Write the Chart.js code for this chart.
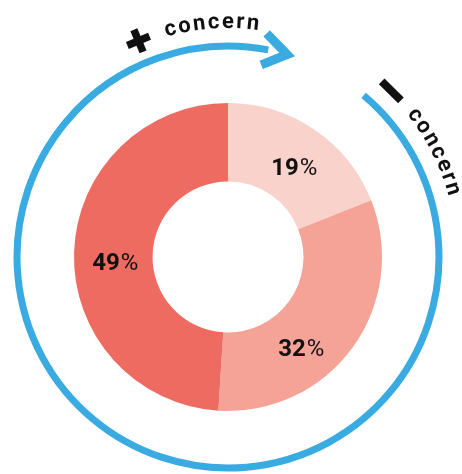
<!DOCTYPE html>
<html>
<head>
<meta charset="utf-8">
<script src="https://cdn.jsdelivr.net/npm/chart.js@4.4.1/dist/chart.umd.min.js"></script>
<style>
  html, body { margin: 0; padding: 0; background: #fff; }
  #wrap { width: 462px; height: 474px; position: relative; }
</style>
</head>
<body>
<div id="wrap"><canvas id="donut"></canvas></div>
<script>
// data
const categories = ['Less concern', 'Some concern', 'More concern'];
const shares = [19, 32, 49];
const shareLabels = ['19', '32', '49'];
const sliceColors = ['#F9D3CB', '#F4A396', '#EE6B62'];

const ringBlue = '#3AABE0';

// compass degrees (0 = top, clockwise) -> point
function polar(cx, cy, r, deg) {
  const a = (deg - 90) * Math.PI / 180;
  return [cx + r * Math.cos(a), cy + r * Math.sin(a)];
}
const rad = d => (d - 90) * Math.PI / 180;

function arcText(ctx, text, cx, cy, r, centerDeg, spacing) {
  const widths = [...text].map(ch => ctx.measureText(ch).width);
  const total = widths.reduce((s, w) => s + w, 0) + spacing * (widths.length - 1);
  let deg = centerDeg - (total / r) * 180 / Math.PI / 2;
  [...text].forEach((ch, i) => {
    const w = widths[i];
    const mid = deg + (w / 2 / r) * 180 / Math.PI;
    const [x, y] = polar(cx, cy, r, mid);
    ctx.save();
    ctx.translate(x, y);
    ctx.rotate(mid * Math.PI / 180);
    ctx.textAlign = 'center';
    ctx.textBaseline = 'alphabetic';
    ctx.fillText(ch, 0, 0);
    ctx.restore();
    deg += ((w + spacing) / r) * 180 / Math.PI;
  });
}

function bar(ctx, cx, cy, r, deg, len, thick, turn) {
  const [x, y] = polar(cx, cy, r, deg);
  ctx.save();
  ctx.translate(x, y);
  ctx.rotate((deg + turn) * Math.PI / 180);
  ctx.fillRect(-len / 2, -thick / 2, len, thick);
  ctx.restore();
}

const ringPlugin = {
  id: 'ring',
  afterDraw(chart) {
    const ctx = chart.ctx;
    const arc = chart.getDatasetMeta(0).data[0];
    const cx = arc.x, cy = arc.y;
    const R = arc.outerRadius * 1.37;

    ctx.save();
    // blue ring with a gap at the top right
    ctx.strokeStyle = ringBlue;
    ctx.lineWidth = 7;
    ctx.beginPath();
    ctx.arc(cx, cy, R, rad(40), rad(371));
    ctx.stroke();
    // arrow head
    const tip = polar(cx, cy, R, 16.3);
    const up = polar(cx, cy, R + 16, 9.8);
    const low = polar(cx, cy, R - 16, 9.8);
    ctx.lineJoin = 'miter';
    ctx.lineWidth = 9;
    ctx.beginPath();
    ctx.moveTo(up[0], up[1]);
    ctx.lineTo(tip[0], tip[1]);
    ctx.lineTo(low[0], low[1]);
    ctx.stroke();

    // curved labels
    ctx.fillStyle = '#111';
    ctx.font = 'bold 22px Roboto';
    arcText(ctx, 'concern', cx, cy, R + 18, -4, 2.2);
    arcText(ctx, 'concern', cx, cy, R + 18, 63, 2.2);
    // plus and minus signs
    bar(ctx, cx, cy, R + 23, -22.5, 24, 7.5, 0);
    bar(ctx, cx, cy, R + 23, -22.5, 24, 7.5, 90);
    bar(ctx, cx, cy, R + 22, 44.5, 27, 8, 0);

    // percentage labels
    const at = [[0.53, 0.465], [0.63, 0.52], [0.478, 0.474]];
    chart.getDatasetMeta(0).data.forEach((el, i) => {
      const p = el.getProps(['x', 'y', 'startAngle', 'endAngle', 'innerRadius', 'outerRadius']);
      const a = p.startAngle + (p.endAngle - p.startAngle) * at[i][0];
      const r = p.innerRadius + (p.outerRadius - p.innerRadius) * at[i][1];
      const x = p.x + r * Math.cos(a), y = p.y + r * Math.sin(a);
      ctx.font = 'bold 24px Roboto';
      const w1 = ctx.measureText(shareLabels[i]).width;
      ctx.font = '24px Roboto';
      const w2 = ctx.measureText('%').width;
      const left = x - (w1 + w2 + 1) / 2;
      const base = y + 8.5;
      ctx.textAlign = 'left';
      ctx.textBaseline = 'alphabetic';
      ctx.font = 'bold 24px Roboto';
      ctx.fillText(shareLabels[i], left, base);
      ctx.font = '24px Roboto';
      ctx.fillText('%', left + w1 + 1, base);
    });
    ctx.restore();
  }
};

new Chart(document.getElementById('donut').getContext('2d'), {
  type: 'doughnut',
  data: {
    labels: categories,
    datasets: [{
      data: shares,
      backgroundColor: sliceColors,
      borderWidth: 0
    }]
  },
  options: {
    responsive: true,
    maintainAspectRatio: false,
    animation: false,
    cutout: '49%',
    layout: { padding: { left: 74, right: 80, top: 103, bottom: 63 } },
    plugins: {
      legend: { display: false },
      tooltip: { enabled: false }
    }
  },
  plugins: [ringPlugin]
});
</script>
</body>
</html>
